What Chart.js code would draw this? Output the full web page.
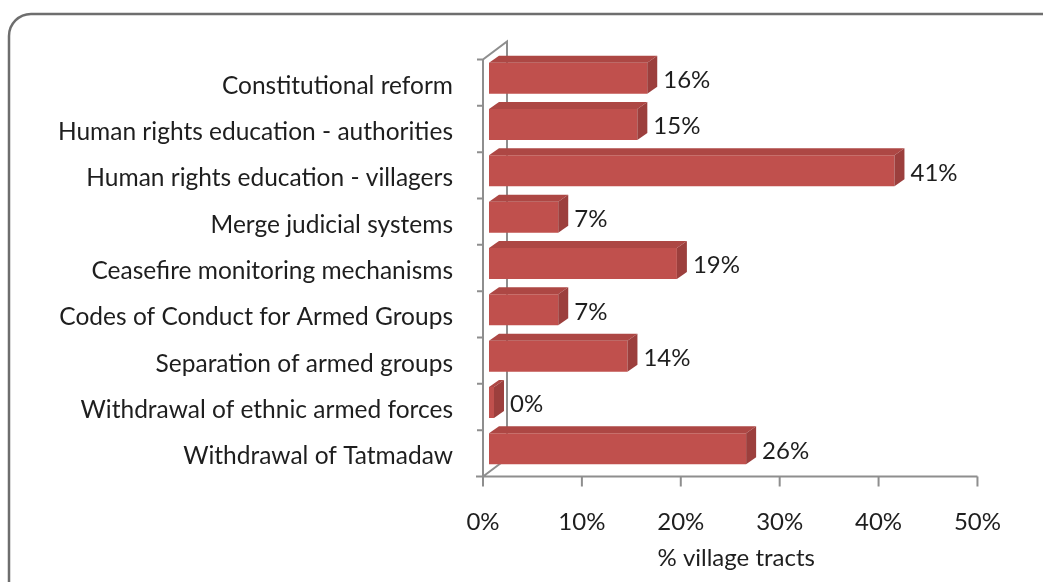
<!doctype html>
<html lang="en">
<head>
<meta charset="utf-8">
<title>Chart</title>
<script src="https://cdn.jsdelivr.net/npm/chart.js"></script>
<style>
  html, body { margin: 0; padding: 0; background: #fff; }
  #wrap { width: 1043px; height: 582px; }
</style>
</head>
<body>
<div id="wrap"><canvas id="myChart" width="1043" height="582"></canvas></div>
<script>
const categories = [
  'Constitutional reform',
  'Human rights education - authorities',
  'Human rights education - villagers',
  'Merge judicial systems',
  'Ceasefire monitoring mechanisms',
  'Codes of Conduct for Armed Groups',
  'Separation of armed groups',
  'Withdrawal of ethnic armed forces',
  'Withdrawal of Tatmadaw'
];
const villageTracts = [16, 15, 41, 7, 19, 7, 14, 0, 26];
const xTicks = [0, 10, 20, 30, 40, 50];

const FONT = 'Lato';
const DX = 10, DY = -7;      // bar depth
const WX = 24, WY = -18;     // wall depth
const SHIFT_X = -6, SHIFT_Y = 4.5; // front of wall vs bar plane

const threeD = {
  id: 'threeD',
  beforeDraw(chart) {
    const ctx = chart.ctx;
    ctx.save();
    ctx.strokeStyle = '#6e6e6e';
    ctx.lineWidth = 2.5;
    ctx.beginPath();
    ctx.roundRect(9, 14, 1100, 640, 22);
    ctx.stroke();
    ctx.restore();
  },
  beforeDatasetsDraw(chart) {
    const ctx = chart.ctx;
    const xs = chart.scales.x, ys = chart.scales.y;
    const n = categories.length;
    const half = (ys.getPixelForValue(1) - ys.getPixelForValue(0)) / 2;
    const top = ys.getPixelForValue(0) - half + SHIFT_Y;
    const bot = ys.getPixelForValue(n - 1) + half + SHIFT_Y;
    const x0 = xs.getPixelForValue(0) + SHIFT_X;
    const x1 = xs.getPixelForValue(50) + SHIFT_X;
    ctx.save();
    ctx.strokeStyle = '#8e8e8e';
    ctx.lineWidth = 2;
    ctx.beginPath();
    // front wall edge + top diagonal + back wall edge + floor diagonal
    ctx.moveTo(x0, bot);
    ctx.lineTo(x0, top);
    ctx.lineTo(x0 + WX, top + WY);
    ctx.lineTo(x0 + WX, bot + WY);
    ctx.lineTo(x0, bot);
    // floor front line
    ctx.moveTo(x0 - 7, bot);
    ctx.lineTo(x1, bot);
    // category ticks
    for (let i = 0; i <= n; i++) {
      const y = ys.getPixelForValue(0) - half + i * half * 2 + SHIFT_Y;
      ctx.moveTo(x0 - 6, y);
      ctx.lineTo(x0, y);
    }
    // value ticks
    xTicks.forEach(v => {
      const x = xs.getPixelForValue(v) + SHIFT_X;
      ctx.moveTo(x, bot);
      ctx.lineTo(x, bot + 10);
    });
    ctx.stroke();
    ctx.restore();
  },
  afterDatasetsDraw(chart) {
    const ctx = chart.ctx;
    const meta = chart.getDatasetMeta(0);
    ctx.save();
    meta.data.forEach((bar, i) => {
      const p = bar.getProps(['x', 'y', 'base', 'height'], true);
      const t = p.y - p.height / 2, b = p.y + p.height / 2;
      ctx.fillStyle = '#ad4744';
      ctx.beginPath();
      ctx.moveTo(p.base, t);
      ctx.lineTo(p.x, t);
      ctx.lineTo(p.x + DX, t + DY);
      ctx.lineTo(p.base + DX, t + DY);
      ctx.closePath();
      ctx.fill();
      ctx.fillStyle = '#9c3f3d';
      ctx.beginPath();
      ctx.moveTo(p.x, t);
      ctx.lineTo(p.x + DX, t + DY);
      ctx.lineTo(p.x + DX, b + DY);
      ctx.lineTo(p.x, b);
      ctx.closePath();
      ctx.fill();
      ctx.fillStyle = '#1e1e1e';
      ctx.font = '24px ' + FONT;
      ctx.textAlign = 'left';
      ctx.textBaseline = 'middle';
      ctx.fillText(villageTracts[i] + '%', p.x + 16, p.y + 2);
    });
    ctx.restore();
  }
};

new Chart(document.getElementById('myChart'), {
  type: 'bar',
  data: {
    labels: categories,
    datasets: [{
      data: villageTracts,
      backgroundColor: '#c0504d',
      borderWidth: 0,
      barPercentage: 0.67,
      categoryPercentage: 1,
      minBarLength: 5
    }]
  },
  options: {
    indexAxis: 'y',
    responsive: false,
    animation: false,
    layout: { padding: { top: 55, right: 58, left: 0, bottom: 0 } },
    plugins: { legend: { display: false }, tooltip: { enabled: false } },
    scales: {
      x: {
        min: 0, max: 50,
        afterFit: s => { s.height = 110; },
        afterBuildTicks: s => { s.ticks = xTicks.map(v => ({ value: v })); },
        grid: { display: false, drawTicks: false },
        border: { display: false },
        ticks: {
          padding: 36,
          labelOffset: SHIFT_X,
          color: '#1e1e1e',
          font: { family: FONT, size: 24 },
          callback: v => v + '%'
        },
        title: {
          display: true,
          text: '% village tracts',
          color: '#1e1e1e',
          font: { family: FONT, size: 24 },
          padding: { top: 0, bottom: 9 }
        }
      },
      y: {
        afterFit: s => { s.width = 489; },
        grid: { display: false, drawTicks: false },
        border: { display: false },
        ticks: {
          padding: 36,
          labelOffset: SHIFT_Y + 3,
          color: '#1e1e1e',
          font: { family: FONT, size: 24.5 },
          autoSkip: false
        }
      }
    }
  },
  plugins: [threeD]
});
</script>
</body>
</html>
